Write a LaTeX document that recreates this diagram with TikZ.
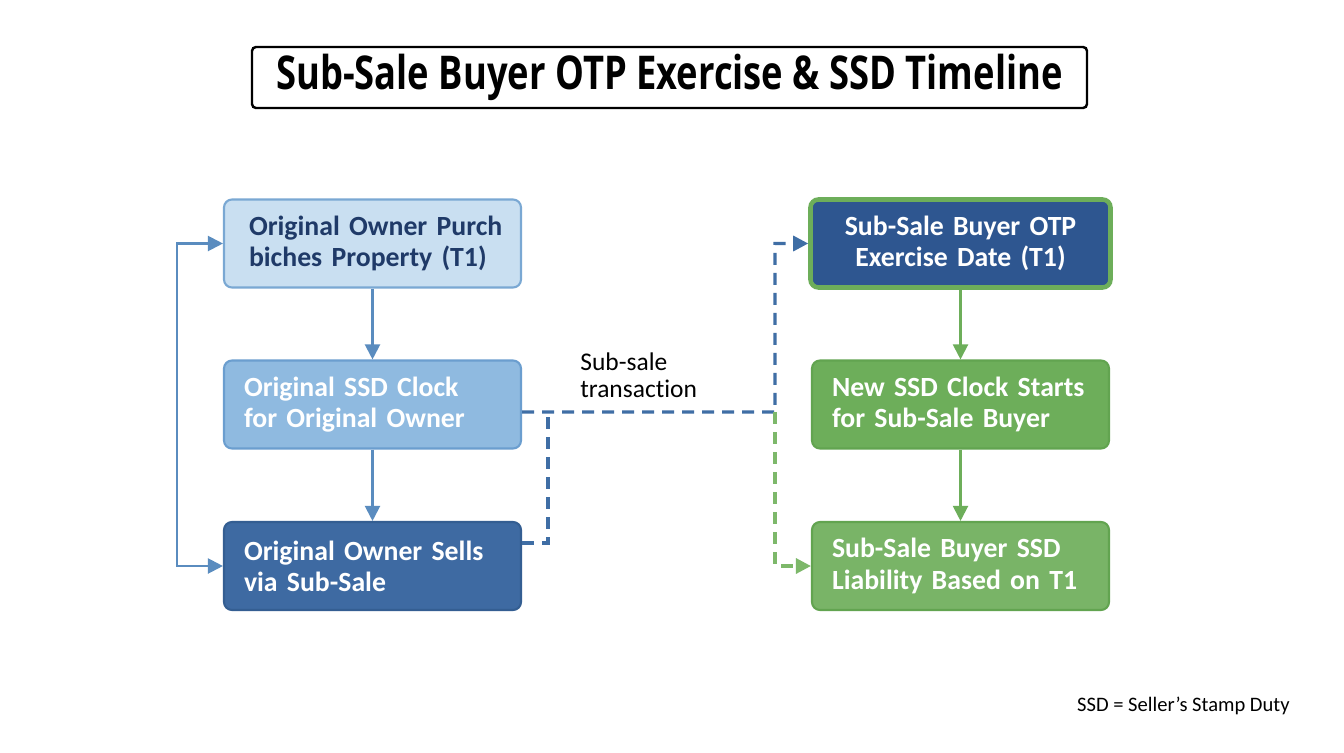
\documentclass[tikz,border=0pt]{standalone}
\usepackage{fontspec}
\setmainfont{Carlito}[Ligatures=NoCommon]
\newfontfamily\titlefont{Open Sans}[FakeStretch=0.78]
\usetikzlibrary{arrows.meta}

\definecolor{paleblue}{HTML}{C9DFF1}
\definecolor{paleedge}{HTML}{7AA8D3}
\definecolor{midblue}{HTML}{8FBAE0}
\definecolor{midedge}{HTML}{6B9ECF}
\definecolor{deepblue}{HTML}{3E6AA2}
\definecolor{deepedge}{HTML}{345E92}
\definecolor{navybox}{HTML}{2E5690}
\definecolor{navytext}{HTML}{1F3A68}
\definecolor{leafgreen}{HTML}{6DAE5A}
\definecolor{leafedge}{HTML}{62A450}
\definecolor{flowblue}{HTML}{5A8CBF}
\definecolor{dashblue}{HTML}{3F6EA5}
\definecolor{dashgreen}{HTML}{7DB86A}

\def\leftx{7.45}
\def\rightx{19.21}
\def\rowa{-4.87}
\def\rowb{-8.09}
\def\rowc{-11.32}
\def\junctionx{15.5}

\tikzset{
  stagebox/.style={rectangle, rounded corners=0.16cm, line width=1.2pt,
    minimum height=1.76cm, text width=5.14cm, inner xsep=0.4cm,
    font=\fontsize{15.8}{17.8}\selectfont\bfseries, align=left},
  flowline/.style={line width=1.2pt, -{Triangle[length=0.3cm,width=0.3cm]}},
  dashline/.style={line width=1.8pt, dash pattern=on 0.24cm off 0.16cm}
}

\begin{document}
\begin{tikzpicture}
  \useasboundingbox (0,0) rectangle (26.88,-15.04);
  \fill[white] (0,0) rectangle (26.88,-15.04);

  % title
  \node[draw=black, line width=1.4pt, rounded corners=0.08cm,
    minimum width=16.7cm, minimum height=1.22cm,
    font=\titlefont\fontsize{26.5}{30}\selectfont\bfseries] (title) at (13.39,-1.55)
    {Sub-Sale Buyer OTP Exercise \& SSD Timeline};

  % original owner column
  \node[stagebox, fill=paleblue, draw=paleedge, text=navytext] (purchase) at (\leftx,\rowa)
    {\mbox{\hspace*{0.1cm}Original Owner Purch}\\\mbox{\hspace*{0.1cm}biches Property (T1)}};
  \node[stagebox, fill=midblue, draw=midedge, text=white] (oldclock) at (\leftx,\rowb)
    {Original SSD Clock\\for Original Owner};
  \node[stagebox, fill=deepblue, draw=deepedge, text=white] (sells) at (\leftx,\rowc)
    {Original Owner Sells\\via Sub-Sale};

  % sub-sale buyer column
  \node[stagebox, fill=navybox, draw=leafgreen, line width=2.6pt, text=white,
    align=center, text width=5.2cm] (exercise) at (\rightx,\rowa)
    {Sub-Sale Buyer OTP\\Exercise Date (T1)};
  \node[stagebox, fill=leafgreen, draw=leafedge, text=white] (newclock) at (\rightx,\rowb)
    {New SSD Clock Starts\\for Sub-Sale Buyer};
  \node[stagebox, fill=leafgreen!92!white, draw=leafedge, text=white] (liability) at (\rightx,\rowc)
    {Sub-Sale Buyer SSD\\Liability Based on T1};

  % solid arrows
  \draw[flowline, flowblue] (purchase) -- (oldclock);
  \draw[flowline, flowblue] (oldclock) -- (sells);
  \draw[flowline, leafgreen] (exercise) -- (newclock);
  \draw[flowline, leafgreen] (newclock) -- (liability);
  \draw[flowline, flowblue, {Triangle[length=0.3cm,width=0.3cm]}-{Triangle[length=0.3cm,width=0.3cm]}]
    (purchase.west) -- ++(-0.92,0) |- (sells.west);

  % sub-sale transaction
  \coordinate (junction) at (\junctionx,-8.24);
  \coordinate (fork) at (10.96,-8.24);
  \draw[dashline, dashblue, -{Triangle[length=0.3cm,width=0.3cm]}]
    ([yshift=-0.15cm]oldclock.east) -- (junction) |- (exercise.west);
  \draw[dashline, dashblue] ([yshift=0.46cm]sells.east) -| (fork);
  \draw[dashline, dashgreen, -{Triangle[length=0.3cm,width=0.3cm]}]
    (junction) |- (liability.west);

  \node[anchor=north west, align=left, inner sep=0pt, font=\fontsize{14.5}{15.5}\selectfont] (deal) at (11.6,-7.05)
    {Sub-sale\\transaction};

  % legend
  \node[anchor=east, inner sep=0pt, font=\fontsize{11.7}{13}\selectfont] (legend) at (25.8,-14.12)
    {SSD = Seller’s Stamp Duty};
\end{tikzpicture}
\end{document}
